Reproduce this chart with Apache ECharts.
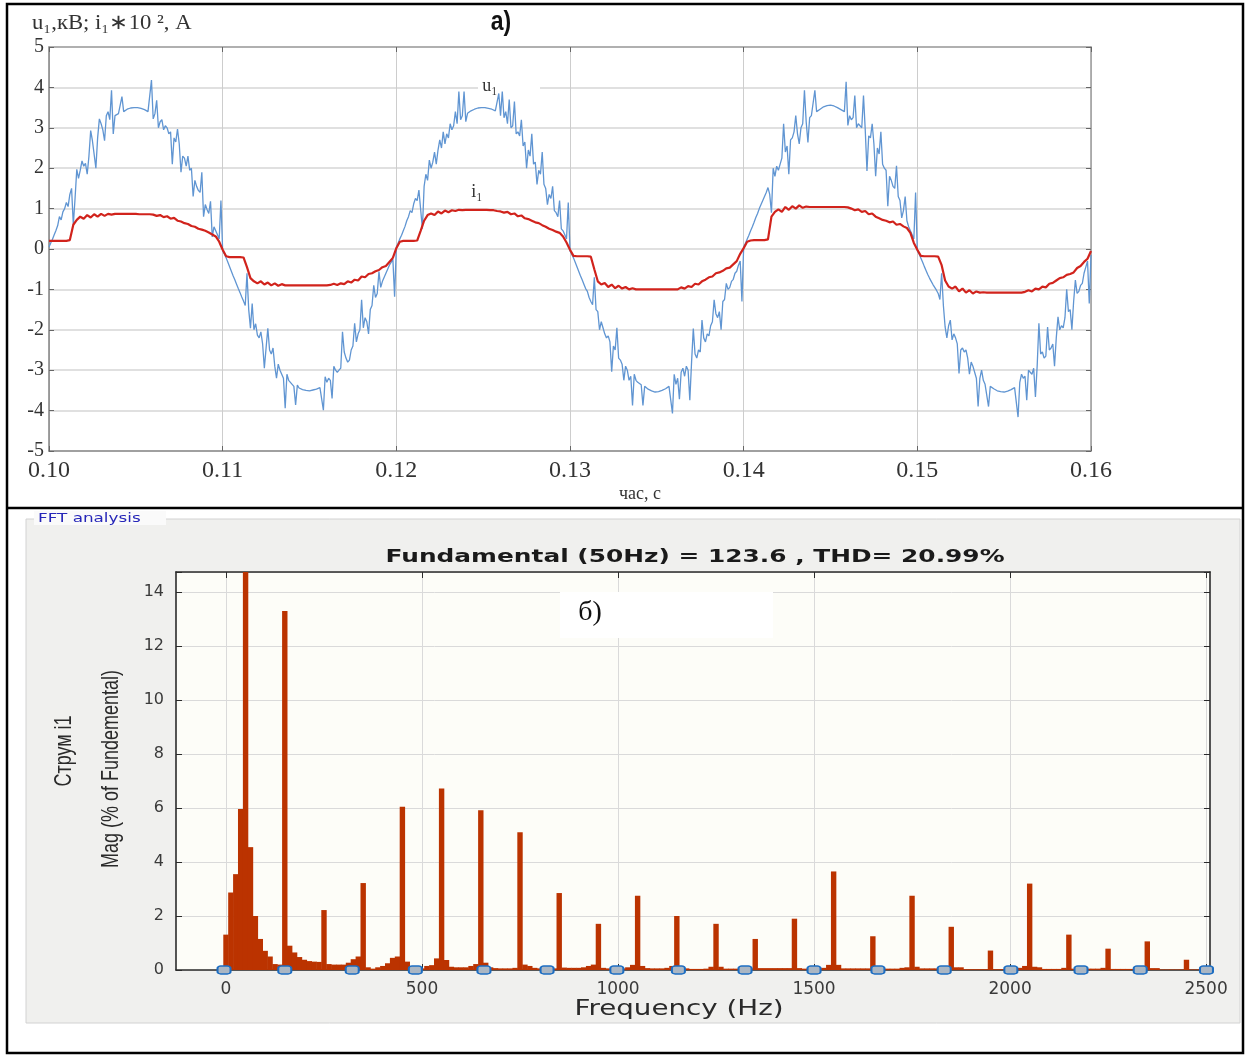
<!DOCTYPE html>
<html><head><meta charset="utf-8">
<script src="https://cdn.jsdelivr.net/npm/echarts@6/dist/echarts.min.js"></script>
<style>html,body{margin:0;padding:0;background:#fff;}#c{width:1245px;height:1056px;}</style>
</head><body><div id="c"></div>
<script>
// ---------- top chart (a): time series ----------
const tStart = 0.10;      // s
const uStep = 0.0001;     // s between u1 samples
const iStep = 0.0002;     // s between i1 samples
const timeAxis = { min: 0.10, max: 0.16, interval: 0.01 };
const ampAxis = { min: -5, max: 5, interval: 1 };

// u1, kV (sampled every 0.1 ms from 0.10 s to 0.16 s)
const u1 = [
0.05,0.15,0.24,0.35,0.46,0.58,0.80,0.72,0.92,1.00,
1.15,1.05,1.35,1.50,0.60,1.25,1.97,1.75,1.95,2.18,
2.05,2.12,1.85,2.30,2.93,2.68,2.72,2.00,2.75,3.22,
3.10,2.95,2.68,3.30,3.40,3.20,3.93,2.85,3.30,3.32,
3.35,3.38,3.77,3.40,3.44,3.46,3.48,3.49,3.50,3.50,
3.50,3.50,3.49,3.48,3.47,3.45,3.43,3.40,3.38,4.18,
3.22,3.35,3.68,3.00,3.15,3.20,2.95,3.05,3.00,2.85,
2.90,2.10,2.75,2.65,2.97,2.60,1.90,2.30,2.25,2.05,
2.30,1.95,2.00,1.30,1.70,1.55,1.45,1.40,1.90,0.80,
1.10,0.98,0.88,1.18,0.30,0.55,0.45,0.35,0.25,1.20,
-0.05,-0.12,-0.22,-0.33,-0.44,-0.55,-0.66,-0.76,-0.87,-0.98,
-1.08,-1.19,-1.29,-1.40,-0.60,-1.50,-1.96,-1.35,-2.00,-1.85,
-2.13,-2.20,-2.05,-2.35,-2.95,-2.45,-1.96,-2.50,-2.60,-2.45,
-2.90,-3.20,-2.85,-3.00,-3.10,-3.20,-3.94,-3.10,-3.25,-3.30,
-3.33,-3.40,-3.86,-3.37,-3.44,-3.46,-3.48,-3.49,-3.50,-3.51,
-3.51,-3.50,-3.49,-3.48,-3.47,-3.45,-3.43,-3.40,-3.99,-3.16,
-3.30,-3.20,-3.25,-3.70,-2.90,-3.00,-3.05,-3.00,-2.95,-2.05,
-2.55,-2.70,-2.80,-2.75,-2.50,-2.40,-1.84,-2.30,-2.10,-2.00,
-1.26,-1.95,-1.70,-1.80,-2.10,-1.50,-1.40,-0.90,-1.20,-1.10,
-0.56,-0.95,-0.80,-0.70,-0.60,-0.50,-0.40,-0.33,-0.25,-1.18,
0.05,0.14,0.25,0.34,0.45,0.56,0.70,0.80,0.95,0.90,
1.12,1.25,1.20,1.46,1.50,0.50,1.55,1.85,1.70,2.20,
2.00,2.15,2.40,2.10,2.45,2.70,2.50,2.90,2.60,2.85,
2.75,3.10,2.95,3.05,3.40,3.10,3.90,3.20,3.30,3.90,
3.15,3.36,3.39,3.42,3.44,3.46,3.48,3.49,3.50,3.50,
3.50,3.50,3.49,3.48,3.47,3.46,3.43,3.42,3.39,3.85,
3.30,3.90,3.25,3.40,3.10,3.70,3.00,3.05,3.65,2.85,
2.90,2.80,3.20,2.55,2.65,2.00,2.45,2.30,2.85,2.10,
2.15,1.60,1.95,1.85,2.40,1.60,1.50,1.10,1.35,1.25,
1.55,0.95,0.90,0.80,1.20,0.50,0.45,0.35,0.25,1.15,
-0.05,-0.13,-0.22,-0.33,-0.44,-0.55,-0.66,-0.76,-0.87,-0.98,
-1.05,-1.20,-1.30,-1.38,-0.70,-1.50,-1.55,-2.00,-1.80,-1.95,
-2.10,-2.20,-2.15,-2.30,-3.04,-2.40,-2.50,-1.95,-2.70,-2.75,
-2.85,-3.25,-2.90,-3.00,-3.25,-3.15,-3.87,-3.10,-3.25,-3.30,
-3.33,-3.36,-3.87,-3.40,-3.44,-3.47,-3.49,-3.51,-3.53,-3.54,
-3.54,-3.53,-3.52,-3.50,-3.48,-3.46,-3.43,-3.40,-3.36,-4.07,
-3.10,-3.35,-3.20,-3.72,-3.05,-2.95,-3.15,-2.90,-3.00,-3.74,
-2.80,-1.97,-2.60,-2.70,-2.50,-2.55,-1.76,-2.20,-2.30,-2.10,
-2.15,-1.90,-1.80,-1.26,-1.60,-1.70,-1.55,-2.00,-1.30,-1.25,
-0.85,-1.00,-0.95,-0.80,-0.75,-0.60,-0.55,-0.40,-0.30,-1.30,
0.05,0.14,0.24,0.34,0.45,0.55,0.66,0.78,0.88,1.00,
1.10,1.20,1.30,1.40,1.52,1.35,0.90,2.00,1.80,2.05,
1.95,2.10,2.25,3.10,2.40,2.55,1.85,2.70,2.75,2.90,
3.30,2.85,2.60,3.00,3.10,3.93,3.15,2.64,3.25,3.30,
3.33,3.93,3.40,3.43,3.46,3.49,3.52,3.54,3.55,3.56,
3.56,3.55,3.54,3.52,3.50,3.48,3.45,3.42,3.40,4.14,
3.06,3.30,3.20,3.25,3.80,3.00,3.10,3.05,3.00,3.80,
2.95,1.93,2.80,2.75,3.10,2.60,1.80,2.50,2.35,2.90,
2.10,2.00,1.95,1.06,1.80,1.70,1.55,1.50,2.06,1.30,
1.20,0.77,0.95,1.30,0.70,0.55,0.45,0.35,0.25,1.40,
-0.05,-0.12,-0.22,-0.32,-0.43,-0.53,-0.63,-0.72,-0.80,-0.88,
-0.95,-1.02,-1.10,-1.25,-0.60,-1.40,-1.93,-2.20,-1.90,-1.76,
-2.25,-2.10,-2.20,-2.35,-3.08,-2.50,-2.45,-2.55,-2.50,-2.70,
-3.10,-2.80,-2.90,-3.05,-3.20,-3.90,-3.20,-3.00,-3.25,-3.35,
-3.38,-3.90,-3.40,-3.43,-3.46,-3.49,-3.51,-3.52,-3.53,-3.54,
-3.54,-3.53,-3.52,-3.50,-3.48,-3.46,-3.43,-3.40,-4.16,-3.30,
-3.10,-3.20,-3.15,-3.74,-3.00,-3.05,-3.10,-2.95,-3.66,-2.90,
-1.84,-2.60,-2.55,-2.70,-2.65,-1.93,-2.50,-2.45,-2.35,-2.90,
-2.20,-1.68,-2.00,-1.90,-1.95,-1.70,-1.00,-1.55,-1.50,-2.00,
-1.30,-0.77,-1.10,-1.05,-0.90,-0.85,-0.60,-0.45,-0.30,-1.35,
-0.15
];

// i1 x 10^2, A (sampled every 0.2 ms from 0.10 s to 0.16 s)
const i1 = [
0.20,0.20,0.20,0.20,0.20,0.20,0.22,0.60,0.72,0.80,
0.75,0.84,0.78,0.86,0.80,0.87,0.82,0.87,0.85,0.87,
0.87,0.87,0.87,0.87,0.87,0.87,0.86,0.86,0.86,0.86,
0.85,0.82,0.84,0.79,0.81,0.75,0.77,0.70,0.68,0.64,
0.62,0.57,0.55,0.50,0.48,0.45,0.41,0.36,0.31,0.18,
-0.02,-0.18,-0.20,-0.20,-0.20,-0.20,-0.21,-0.45,-0.72,-0.80,
-0.85,-0.80,-0.88,-0.83,-0.90,-0.85,-0.91,-0.87,-0.90,-0.90,
-0.90,-0.90,-0.90,-0.90,-0.90,-0.90,-0.90,-0.90,-0.90,-0.90,
-0.90,-0.89,-0.86,-0.89,-0.85,-0.87,-0.80,-0.83,-0.76,-0.78,
-0.68,-0.70,-0.62,-0.60,-0.55,-0.52,-0.45,-0.42,-0.32,-0.22,
0.02,0.18,0.20,0.20,0.20,0.20,0.21,0.45,0.70,0.84,
0.88,0.84,0.93,0.88,0.95,0.91,0.96,0.94,0.97,0.96,
0.97,0.97,0.97,0.97,0.97,0.97,0.97,0.96,0.96,0.94,
0.93,0.90,0.92,0.86,0.88,0.81,0.83,0.76,0.74,0.70,
0.66,0.64,0.59,0.55,0.50,0.47,0.43,0.40,0.31,0.16,
-0.02,-0.17,-0.18,-0.18,-0.18,-0.18,-0.19,-0.50,-0.80,-0.88,
-0.84,-0.94,-0.88,-0.97,-0.91,-0.98,-0.94,-1.00,-0.97,-1.00,
-1.00,-1.00,-1.00,-1.00,-1.00,-1.00,-1.00,-1.00,-1.00,-1.00,
-1.00,-1.00,-0.95,-0.98,-0.92,-0.94,-0.86,-0.88,-0.80,-0.76,
-0.70,-0.68,-0.60,-0.58,-0.54,-0.48,-0.46,-0.38,-0.30,-0.12,
0.02,0.18,0.21,0.22,0.22,0.22,0.22,0.24,0.80,0.92,
0.98,0.92,1.04,0.97,1.06,1.00,1.08,1.02,1.05,1.04,
1.04,1.04,1.04,1.04,1.04,1.04,1.04,1.04,1.04,1.04,
1.03,1.00,0.96,0.98,0.92,0.94,0.86,0.88,0.80,0.76,
0.72,0.70,0.66,0.68,0.60,0.62,0.56,0.52,0.40,0.15,
-0.02,-0.17,-0.18,-0.18,-0.18,-0.18,-0.19,-0.40,-0.78,-0.93,
-0.98,-0.93,-1.05,-0.98,-1.08,-1.02,-1.10,-1.05,-1.08,-1.07,
-1.08,-1.08,-1.08,-1.08,-1.08,-1.08,-1.08,-1.08,-1.08,-1.08,
-1.08,-1.06,-1.02,-1.05,-0.98,-1.00,-0.93,-0.95,-0.86,-0.84,
-0.78,-0.72,-0.70,-0.64,-0.62,-0.58,-0.47,-0.42,-0.32,-0.24,
-0.05
];

// ---------- bottom chart (б): FFT spectrum ----------
const fftBinHz = 12.5;
const freqAxis = { min: -127.5, max: 2510 };
const freqTicks = [0, 500, 1000, 1500, 2000, 2500];
const magAxis = { min: 0, max: 14.74, interval: 2 };
// magnitude, % of fundamental, one value per 12.5 Hz bin (0 .. 2500 Hz)
const fftMag = [
1.31,2.87,3.55,5.96,100,4.55,2.00,1.15,0.71,0.50,
0.22,0.20,13.3,0.90,0.65,0.48,0.38,0.33,0.31,0.30,
2.22,0.22,0.20,0.20,0.20,0.27,0.40,0.50,3.22,0.10,
0.05,0.10,0.15,0.25,0.45,0.50,6.05,0.31,0.07,0.06,
0.06,0.15,0.18,0.43,6.72,0.37,0.12,0.10,0.10,0.10,
0.15,0.22,5.92,0.27,0.10,0.07,0.06,0.06,0.06,0.08,
5.10,0.20,0.15,0.08,0.06,0.06,0.06,0.06,2.85,0.09,
0.08,0.08,0.08,0.10,0.15,0.20,1.71,0.08,0.06,0.06,
0.06,0.06,0.10,0.19,2.75,0.15,0.07,0.06,0.06,0.06,
0.08,0.15,2.00,0.15,0.06,0.04,0.04,0.04,0.05,0.12,
1.71,0.12,0.05,0.05,0.05,0.05,0.05,0.06,1.15,0.07,
0.07,0.07,0.07,0.07,0.07,0.07,1.90,0.07,0.05,0.05,
0.05,0.05,0.08,0.19,3.65,0.19,0.06,0.06,0.06,0.06,
0.06,0.06,1.25,0.05,0.05,0.05,0.05,0.05,0.08,0.10,
2.75,0.12,0.06,0.06,0.06,0.06,0.06,0.07,1.60,0.10,
0.10,0.03,0.03,0.03,0.03,0.03,0.72,0.03,0.03,0.03,
0.03,0.03,0.08,0.15,3.20,0.12,0.10,0.04,0.04,0.04,
0.04,0.08,1.31,0.05,0.05,0.05,0.05,0.05,0.05,0.08,
0.79,0.04,0.04,0.04,0.04,0.04,0.04,0.05,1.06,0.07,
0.07,0.02,0.02,0.02,0.02,0.02,0.38,0.02,0.02,0.02,
0.02
];
// blue square markers along the frequency axis (Hz)
const markerHz = [-5,150,322,483,658,819,997,1154,1324,1500,1663,1832,2002,2181,2332,2501];

// ---------- build ----------
const uData = u1.map((v, k) => [+(tStart + k * uStep).toFixed(5), v]);
const iData = i1.map((v, k) => [+(tStart + k * iStep).toFixed(5), v]);
const fftData = fftMag.map((v, k) => [k * fftBinHz, v]);
const markerData = markerHz.map(f => [f, 0]);

const serif = '"Liberation Serif","DejaVu Serif",serif';
const sans = '"DejaVu Sans",sans-serif';

const chart = echarts.init(document.getElementById('c'), null, { renderer: 'canvas' });

const topFrame = '#8a8a8a';
const botFrame = '#2b2b2b';

const option = {
  animation: false,
  backgroundColor: '#fff',
  grid: [
    { left: 49, top: 47, width: 1042, height: 404, show: true, backgroundColor: '#fff', borderWidth: 0 },
    { left: 176, top: 572, width: 1034, height: 398, show: true, backgroundColor: '#fdfdf8', borderWidth: 0 }
  ],
  xAxis: [
    { type: 'value', gridIndex: 0, position: 'bottom', min: timeAxis.min, max: timeAxis.max, interval: timeAxis.interval,
      axisLine: { onZero: false, lineStyle: { color: topFrame, width: 1.6 } },
      axisTick: { inside: true, length: 5, lineStyle: { color: '#666' } },
      axisLabel: { formatter: v => v.toFixed(2), fontFamily: serif, fontSize: 24, color: '#333', margin: 8 },
      splitLine: { show: true, lineStyle: { color: '#cdcdcd', width: 1 } } },
    { type: 'value', gridIndex: 0, position: 'top', min: timeAxis.min, max: timeAxis.max, interval: timeAxis.interval,
      axisLine: { show: true, onZero: false, lineStyle: { color: '#a0a0a0', width: 1.6 } },
      axisTick: { show: true, inside: true, length: 5, lineStyle: { color: '#666' } },
      axisLabel: { show: false }, splitLine: { show: false } },
    { type: 'value', gridIndex: 1, position: 'bottom', min: freqAxis.min, max: freqAxis.max,
      axisLine: { onZero: false, lineStyle: { color: botFrame, width: 1.6 } },
      axisTick: { inside: true, length: 6, customValues: freqTicks, lineStyle: { color: botFrame } },
      axisLabel: { customValues: freqTicks, formatter: v => String(v), fontFamily: sans, fontSize: 17, color: '#3a3a3a', margin: 11 },
      splitLine: { show: true, lineStyle: { color: '#dadada', width: 1 } } },
    { type: 'value', gridIndex: 1, position: 'top', min: freqAxis.min, max: freqAxis.max,
      axisLine: { show: true, onZero: false, lineStyle: { color: botFrame, width: 1.6 } },
      axisTick: { show: true, inside: true, length: 6, customValues: freqTicks, lineStyle: { color: botFrame } },
      axisLabel: { show: false }, splitLine: { show: false } }
  ],
  yAxis: [
    { type: 'value', gridIndex: 0, position: 'left', min: ampAxis.min, max: ampAxis.max, interval: ampAxis.interval,
      axisLine: { show: true, onZero: false, lineStyle: { color: topFrame, width: 1.6 } },
      axisTick: { show: true, inside: true, length: 5, lineStyle: { color: '#666' } },
      axisLabel: { fontFamily: serif, fontSize: 20, color: '#333', margin: 5 },
      splitLine: { show: true, lineStyle: { color: '#e0e0e0', width: 2 } } },
    { type: 'value', gridIndex: 0, position: 'right', min: ampAxis.min, max: ampAxis.max, interval: ampAxis.interval,
      axisLine: { show: true, onZero: false, lineStyle: { color: '#a0a0a0', width: 1.6 } },
      axisTick: { show: true, inside: true, length: 5, lineStyle: { color: '#666' } },
      axisLabel: { show: false }, splitLine: { show: false } },
    { type: 'value', gridIndex: 1, position: 'left', min: magAxis.min, max: magAxis.max, interval: magAxis.interval,
      axisLine: { show: true, onZero: false, lineStyle: { color: botFrame, width: 1.6 } },
      axisTick: { show: true, inside: true, length: 6, lineStyle: { color: botFrame } },
      axisLabel: { fontFamily: sans, fontSize: 16, color: '#3a3a3a', margin: 12,
        formatter: v => (Math.abs(v % 2) < 1e-9 ? String(v) : '') },
      splitLine: { show: true, lineStyle: { color: '#dadada', width: 1 } } },
    { type: 'value', gridIndex: 1, position: 'right', min: magAxis.min, max: magAxis.max, interval: magAxis.interval,
      axisLine: { show: true, onZero: false, lineStyle: { color: botFrame, width: 1.6 } },
      axisTick: { show: true, inside: true, length: 6, lineStyle: { color: botFrame } },
      axisLabel: { show: false }, splitLine: { show: false } }
  ],
  series: [
    { name: 'u1', type: 'line', xAxisIndex: 0, yAxisIndex: 0, data: uData, showSymbol: false, symbol: 'none',
      lineStyle: { color: '#6095d2', width: 1.3 }, z: 3 },
    { name: 'i1', type: 'line', xAxisIndex: 0, yAxisIndex: 0, data: iData, showSymbol: false, symbol: 'none',
      lineStyle: { color: '#d1231c', width: 2.2 }, z: 4 },
    { name: 'fft', type: 'bar', xAxisIndex: 2, yAxisIndex: 2, data: fftData, barWidth: 5.4,
      itemStyle: { color: '#bb3300' }, clip: true, z: 3 },
    { name: 'markers', type: 'scatter', xAxisIndex: 2, yAxisIndex: 2, data: markerData,
      symbol: 'roundRect', symbolSize: [13, 8], clip: false,
      itemStyle: { color: '#aab6c3', borderColor: '#1c6dc2', borderWidth: 1.6, opacity: 1 }, z: 5 }
  ],
  graphic: [
    // bottom panel background
    { type: 'rect', z: -10, shape: { x: 26, y: 519, width: 1214, height: 504 },
      style: { fill: '#f0f0ee', stroke: '#d2d2d2', lineWidth: 1 } },
    { type: 'rect', z: -9, shape: { x: 34, y: 511, width: 132, height: 14 }, style: { fill: '#fafafa' } },
    { type: 'text', z: 10, x: 38, y: 519, scaleX: 1.4,
      style: { text: 'FFT analysis', font: '12px "DejaVu Sans"', fill: '#2626b8', verticalAlign: 'middle', textVerticalAlign: 'middle' } },
    // titles and labels top
    { type: 'text', z: 10, x: 32, y: 23, scaleX: 1.08,
      style: { text: 'u₁,кВ; i₁∗10 ², А', font: '21px "Liberation Serif"', fill: '#333', verticalAlign: 'middle', textVerticalAlign: 'middle' } },
    { type: 'text', z: 10, x: 501, y: 22, scaleX: 0.82,
      style: { text: 'а)', font: 'bold 28px "Liberation Sans"', fill: '#111', align: 'center', textAlign: 'center', verticalAlign: 'middle', textVerticalAlign: 'middle' } },
    { type: 'rect', z: 1, shape: { x: 478, y: 77, width: 62, height: 20 }, style: { fill: '#fff' } },
    { type: 'text', z: 1, x: 490, y: 86,
      style: { text: 'u₁', font: '18px "Liberation Serif"', fill: '#333', align: 'center', textAlign: 'center', verticalAlign: 'middle', textVerticalAlign: 'middle' } },
    { type: 'text', z: 1, x: 477, y: 192,
      style: { text: 'i₁', font: '18px "Liberation Serif"', fill: '#333', align: 'center', textAlign: 'center', verticalAlign: 'middle', textVerticalAlign: 'middle' } },
    { type: 'text', z: 10, x: 640, y: 494,
      style: { text: 'час, с', font: '18px "Liberation Serif"', fill: '#333', align: 'center', textAlign: 'center', verticalAlign: 'middle', textVerticalAlign: 'middle' } },
    // bottom titles
    { type: 'text', z: 10, x: 695, y: 557, scaleX: 1.38,
      style: { text: 'Fundamental (50Hz) = 123.6 , THD= 20.99%', font: 'bold 18px "DejaVu Sans"', fill: '#1a1a1a', align: 'center', textAlign: 'center', verticalAlign: 'middle', textVerticalAlign: 'middle' } },
    { type: 'rect', z: 1, shape: { x: 560, y: 592, width: 213, height: 46 }, style: { fill: '#ffffff' } },
    { type: 'text', z: 1, x: 590, y: 613,
      style: { text: 'б)', font: '28px "Liberation Serif"', fill: '#111', align: 'center', textAlign: 'center', verticalAlign: 'middle', textVerticalAlign: 'middle' } },
    { type: 'text', z: 10, x: 679, y: 1010, scaleX: 1.32,
      style: { text: 'Frequency (Hz)', font: '21px "DejaVu Sans"', fill: '#2a2a2a', align: 'center', textAlign: 'center', verticalAlign: 'middle', textVerticalAlign: 'middle' } },
    { type: 'text', z: 10, x: 111, y: 769, rotation: Math.PI / 2, scaleX: 0.75,
      style: { text: 'Mag (% of Fundemental)', font: '24px "Liberation Sans"', fill: '#2a2a2a', align: 'center', textAlign: 'center', verticalAlign: 'middle', textVerticalAlign: 'middle' } },
    { type: 'text', z: 10, x: 64, y: 751, rotation: Math.PI / 2, scaleX: 0.75,
      style: { text: 'Струм i1', font: '24px "Liberation Sans"', fill: '#2a2a2a', align: 'center', textAlign: 'center', verticalAlign: 'middle', textVerticalAlign: 'middle' } },
    // outer frame and divider
    { type: 'rect', z: 100, shape: { x: 7, y: 4, width: 1236, height: 1049 },
      style: { fill: 'none', stroke: '#000', lineWidth: 2.5 } },
    { type: 'line', z: 100, shape: { x1: 7, y1: 508, x2: 1243, y2: 508 },
      style: { stroke: '#000', lineWidth: 2.5 } }
  ]
};
chart.setOption(option);
</script>
</body></html>
